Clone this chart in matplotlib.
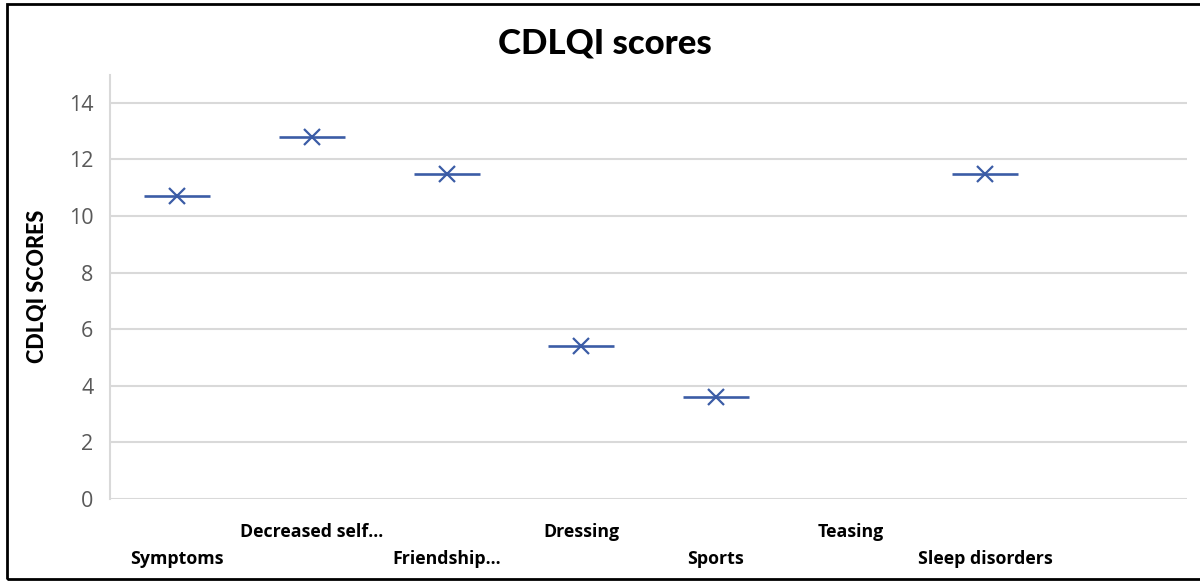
import matplotlib.pyplot as plt
from matplotlib.patches import Rectangle
import numpy as np

# Chart values
categories = ["Symptoms", "Decreased self...", "Friendship...", "Dressing",
              "Sports", "Teasing", "Sleep disorders", ""]
scores = [10.7, 12.8, 11.5, 5.4, 3.6, np.nan, 11.5, np.nan]
y_ticks = [0, 2, 4, 6, 8, 10, 12, 14]

blue = "#3b5ca6"
grid_grey = "#d9d9d9"

plt.rcParams["font.family"] = ["Open Sans", "DejaVu Sans"]

fig = plt.figure(figsize=(12, 5.81), dpi=100)
ax = fig.add_axes([110 / 1200, 1 - 499 / 581, 1077 / 1200, 424.5 / 581])

x = np.arange(len(categories))
y = np.array(scores)

# Horizontal bar through each point, plus the x marker
ax.hlines(y, x - 0.245, x + 0.245, color=blue, linewidth=1.9, zorder=3)
ax.plot(x, y, linestyle="none", marker="x", markersize=12,
        markeredgewidth=1.6, color=blue, zorder=4)

ax.set_xlim(-0.5, len(categories) - 0.5)
ax.set_ylim(0, 15)
ax.set_yticks(y_ticks)
ax.set_xticks(x)
ax.set_xticklabels(categories, fontsize=12.8, fontweight="bold", color="black")

# Staggered category labels, like Excel does when they do not fit
for i, tick in enumerate(ax.xaxis.get_major_ticks()):
    tick.set_pad(17.3 if i % 2 else 36.8)

ax.tick_params(axis="both", length=0)
ax.tick_params(axis="y", labelsize=15.5, labelcolor="#595959", pad=12)
ax.grid(axis="y", color=grid_grey, linewidth=1.5)
ax.set_axisbelow(True)

for side in ["top", "right", "bottom"]:
    ax.spines[side].set_visible(False)
ax.spines["left"].set_color(grid_grey)
ax.spines["left"].set_linewidth(1.5)

heavy = ["Lato", "Open Sans", "DejaVu Sans"]
ax.set_ylabel("CDLQI SCORES", fontsize=15.6, fontweight=900, family=heavy,
              labelpad=15)

fig.text(605 / 1200, 1 - 43 / 581, "CDLQI scores", ha="center", va="center",
         fontsize=25, fontweight=900, family=heavy)

# Outer frame of the chart
fig.patches.append(Rectangle((7 / 1200, 2 / 581), 1.0, 575 / 581,
                             transform=fig.transFigure, fill=False,
                             edgecolor="black", linewidth=2))

fig.savefig("out.png", dpi=100)
